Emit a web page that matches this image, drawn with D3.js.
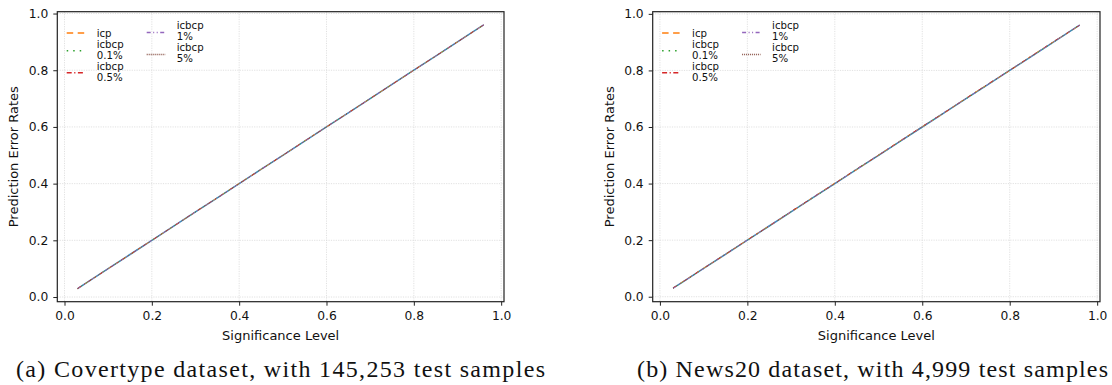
<!DOCTYPE html>
<html>
<head>
<meta charset="utf-8">
<script src="https://cdn.jsdelivr.net/npm/d3@7"></script>
<style>
  html, body { margin: 0; padding: 0; background: #fff; }
  svg { display: block; }
</style>
</head>
<body>
<svg id="chart" width="1112" height="385"></svg>
<script>
// ---------------- data ----------------
const sigLevels = [0.03, 0.05, 0.10, 0.15, 0.20, 0.25, 0.30, 0.35, 0.40, 0.45, 0.50,
                   0.55, 0.60, 0.65, 0.70, 0.75, 0.80, 0.85, 0.90, 0.95, 0.96];

// Covertype (145,253 test samples)
const covBase     = [0.030, 0.050, 0.100, 0.150, 0.200, 0.250, 0.300, 0.350, 0.400, 0.450, 0.500,
                     0.550, 0.600, 0.650, 0.700, 0.750, 0.800, 0.850, 0.900, 0.950, 0.960];
const covIcp      = [0.030, 0.050, 0.100, 0.150, 0.200, 0.250, 0.300, 0.350, 0.401, 0.450, 0.500,
                     0.551, 0.600, 0.650, 0.700, 0.750, 0.800, 0.850, 0.900, 0.950, 0.960];
const covIcbcp01  = [0.030, 0.050, 0.100, 0.150, 0.200, 0.250, 0.300, 0.350, 0.400, 0.451, 0.500,
                     0.550, 0.600, 0.650, 0.700, 0.750, 0.800, 0.850, 0.900, 0.950, 0.960];
const covIcbcp05  = [0.030, 0.050, 0.100, 0.150, 0.200, 0.250, 0.301, 0.350, 0.400, 0.450, 0.500,
                     0.550, 0.600, 0.650, 0.700, 0.750, 0.800, 0.850, 0.900, 0.950, 0.960];
const covIcbcp1   = [0.030, 0.050, 0.100, 0.150, 0.200, 0.250, 0.300, 0.350, 0.400, 0.450, 0.500,
                     0.550, 0.601, 0.650, 0.700, 0.750, 0.800, 0.850, 0.900, 0.950, 0.960];
const covIcbcp5   = [0.030, 0.050, 0.100, 0.150, 0.200, 0.250, 0.300, 0.350, 0.400, 0.450, 0.500,
                     0.550, 0.600, 0.650, 0.700, 0.750, 0.800, 0.850, 0.900, 0.950, 0.960];

// News20 (4,999 test samples)
const newsBase    = [0.030, 0.050, 0.100, 0.150, 0.200, 0.250, 0.300, 0.350, 0.400, 0.450, 0.500,
                     0.550, 0.600, 0.650, 0.700, 0.750, 0.800, 0.850, 0.900, 0.950, 0.960];
const newsIcp     = [0.030, 0.051, 0.101, 0.149, 0.201, 0.251, 0.299, 0.351, 0.402, 0.449, 0.501,
                     0.552, 0.601, 0.649, 0.702, 0.751, 0.799, 0.852, 0.901, 0.949, 0.959];
const newsIcbcp01 = [0.030, 0.049, 0.099, 0.151, 0.199, 0.249, 0.301, 0.349, 0.399, 0.451, 0.499,
                     0.549, 0.599, 0.651, 0.699, 0.749, 0.801, 0.849, 0.899, 0.951, 0.961];
const newsIcbcp05 = [0.031, 0.050, 0.101, 0.150, 0.201, 0.250, 0.302, 0.351, 0.400, 0.452, 0.500,
                     0.551, 0.602, 0.650, 0.701, 0.752, 0.800, 0.851, 0.902, 0.950, 0.960];
const newsIcbcp1  = [0.029, 0.050, 0.099, 0.152, 0.200, 0.251, 0.300, 0.352, 0.401, 0.450, 0.502,
                     0.550, 0.600, 0.652, 0.700, 0.750, 0.802, 0.850, 0.900, 0.951, 0.960];
const newsIcbcp5  = [0.030, 0.050, 0.100, 0.151, 0.200, 0.250, 0.301, 0.350, 0.401, 0.451, 0.501,
                     0.550, 0.601, 0.651, 0.701, 0.751, 0.801, 0.851, 0.901, 0.950, 0.960];

const seriesNames  = ["", "icp", "icbcp\n0.1%", "icbcp\n0.5%", "icbcp\n1%", "icbcp\n5%"];
const seriesColors = ["#1f77b4", "#ff7f0e", "#2ca02c", "#d62728", "#9467bd", "#8c564b"];
const seriesDashes = [null, "4,5", "1,4", "4,4,1,4", "3,4,1,4,1,4", "1,3"];
const legendDashes = [null, "6.5,4.5", "1.5,5", "5,2.5,1.2,2.5", "4,2.5,1,2.5,1,2.5", "1,1"];

const xTicks = [0.0, 0.2, 0.4, 0.6, 0.8, 1.0];
const yTicks = [0.0, 0.2, 0.4, 0.6, 0.8, 1.0];
const xLabel = "Significance Level";
const yLabel = "Prediction Error Rates";

const panels = [
  { caption: "(a) Covertype dataset, with 145,253 test samples",
    series: [covBase, covIcp, covIcbcp01, covIcbcp05, covIcbcp1, covIcbcp5],
    left: 57.3, right: 504, capX: 280.5, capW: 529 },
  { caption: "(b) News20 dataset, with 4,999 test samples",
    series: [newsBase, newsIcp, newsIcbcp01, newsIcbcp05, newsIcbcp1, newsIcbcp5],
    left: 652.7, right: 1100, capX: 872.5, capW: 471 }
];

// ---------------- drawing ----------------
const svg = d3.select("#chart");
const plotTop = 11.7, plotBottom = 301.7;
const sansFont = "DejaVu Sans, sans-serif";

function padDomain(ext) {
  const m = (ext[1] - ext[0]) * 0.05;
  return [ext[0] - m, ext[1] + m];
}

panels.forEach((p, pi) => {
  const allY = p.series.flat();
  const x = d3.scaleLinear().domain(padDomain(d3.extent(sigLevels))).range([p.left, p.right]);
  const y = d3.scaleLinear().domain(padDomain(d3.extent(allY))).range([plotBottom, plotTop]);

  const g = svg.append("g");

  // grid
  g.append("g").selectAll("line").data(xTicks).join("line")
    .attr("x1", d => x(d)).attr("x2", d => x(d))
    .attr("y1", plotTop).attr("y2", plotBottom)
    .attr("stroke", "#d9d9d9").attr("stroke-width", 0.8).attr("stroke-dasharray", "1.2,1.2");
  g.append("g").selectAll("line").data(yTicks).join("line")
    .attr("y1", d => y(d)).attr("y2", d => y(d))
    .attr("x1", p.left).attr("x2", p.right)
    .attr("stroke", "#d9d9d9").attr("stroke-width", 0.8).attr("stroke-dasharray", "1.2,1.2");

  // lines
  const line = d3.line().x((d, i) => x(sigLevels[i])).y(d => y(d));
  p.series.forEach((s, si) => {
    g.append("path").datum(s)
      .attr("d", line)
      .attr("fill", "none")
      .attr("stroke", seriesColors[si])
      .attr("stroke-width", si === 0 ? 1.5 : 1.0)
      .attr("stroke-opacity", si === 0 ? 0.85 : 0.9)
      .attr("stroke-dasharray", seriesDashes[si]);
  });

  // axes
  const xAxis = d3.axisBottom(x).tickValues(xTicks).tickFormat(d3.format(".1f"))
    .tickSize(4).tickPadding(6);
  const yAxis = d3.axisLeft(y).tickValues(yTicks).tickFormat(d3.format(".1f"))
    .tickSize(4).tickPadding(5);
  const gx = g.append("g").attr("transform", `translate(0,${plotBottom})`).call(xAxis);
  const gy = g.append("g").attr("transform", `translate(${p.left},0)`).call(yAxis);
  [gx, gy].forEach(a => {
    a.select(".domain").remove();
    a.selectAll(".tick line").attr("stroke", "#222").attr("stroke-width", 1);
    a.selectAll(".tick text").attr("font-family", sansFont).attr("font-size", 12.3).attr("fill", "#111");
  });

  // frame
  g.append("rect")
    .attr("x", p.left).attr("y", plotTop)
    .attr("width", p.right - p.left).attr("height", plotBottom - plotTop)
    .attr("fill", "none").attr("stroke", "#222").attr("stroke-width", 1.2);

  // axis labels
  g.append("text")
    .attr("x", (p.left + p.right) / 2).attr("y", 339.5)
    .attr("text-anchor", "middle")
    .attr("font-family", sansFont).attr("font-size", 13).attr("fill", "#111")
    .text(xLabel);
  g.append("text")
    .attr("transform", `translate(${p.left - 39},${(plotTop + plotBottom) / 2}) rotate(-90)`)
    .attr("text-anchor", "middle")
    .attr("font-family", sansFont).attr("font-size", 13).attr("fill", "#111")
    .text(yLabel);

  // legend
  const colStart = [{ x: p.left + 9.4, y: 33 }, { x: p.left + 89.4, y: 25.7 }];
  const colOf = [null, 0, 0, 0, 1, 1];
  const pitch = 11;
  const cursor = [colStart[0].y, colStart[1].y];
  const lg = g.append("g");
  seriesNames.forEach((name, si) => {
    if (!name) return;
    const c = colOf[si];
    const lines = name.split("\n");
    const y0 = cursor[c];
    const hy = y0 + (lines.length - 1) * pitch / 2 + (lines.length > 1 ? 1.2 : 0);
    lg.append("line")
      .attr("x1", colStart[c].x).attr("x2", colStart[c].x + 18.5)
      .attr("y1", hy).attr("y2", hy)
      .attr("stroke", seriesColors[si]).attr("stroke-width", 1.5)
      .attr("stroke-dasharray", legendDashes[si]);
    lines.forEach((t, li) => {
      lg.append("text")
        .attr("x", colStart[c].x + 30).attr("y", y0 + li * pitch)
        .attr("dy", "0.35em")
        .attr("font-family", sansFont).attr("font-size", 10.2).attr("fill", "#111")
        .text(t);
    });
    cursor[c] = y0 + lines.length * pitch;
  });

  // caption
  svg.append("text")
    .attr("x", p.capX).attr("y", 377)
    .attr("text-anchor", "middle")
    .attr("font-family", "Liberation Serif, Times New Roman, serif")
    .attr("font-size", 24).attr("fill", "#111")
    .attr("textLength", p.capW).attr("lengthAdjust", "spacing")
    .text(p.caption);
});
</script>
</body>
</html>
